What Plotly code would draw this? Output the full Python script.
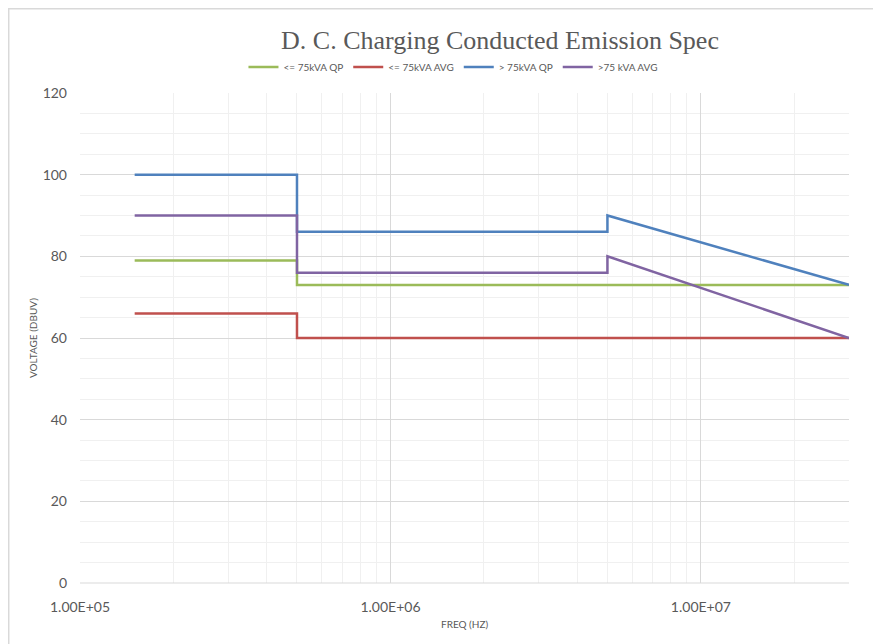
import plotly.graph_objects as go

# Data
series_names = ["<= 75kVA QP", "<= 75kVA AVG", "> 75kVA QP", ">75 kVA AVG"]
freq_low = [1.5e5, 5e5, 5e5, 3e7]
qp_low = [79, 79, 73, 73]
avg_low = [66, 66, 60, 60]
freq_high = [1.5e5, 5e5, 5e5, 5e6, 5e6, 3e7]
qp_high = [100, 100, 86, 86, 90, 73]
avg_high = [90, 90, 76, 76, 80, 60]
colors = ["#9bbb59", "#c0504d", "#4f81bd", "#8064a2"]
x_tickvals = [1e5, 1e6, 1e7]
x_ticktext = ["1.00E+05", "1.00E+06", "1.00E+07"]

fig = go.Figure()
for name, xs, ys, c in zip(series_names,
                           [freq_low, freq_low, freq_high, freq_high],
                           [qp_low, avg_low, qp_high, avg_high], colors):
    fig.add_trace(go.Scatter(x=xs, y=ys, mode="lines", name=name,
                             line=dict(color=c, width=2.5)))

minor_x = [m * 10 ** e for e in (5, 6, 7) for m in range(2, 10) if m * 10 ** e <= 3e7]

fig.update_layout(
    width=873, height=636,
    margin=dict(l=72, r=32, t=85, b=61),
    paper_bgcolor="white", plot_bgcolor="white",
    title=dict(text="D. C. Charging Conducted Emission Spec",
               font=dict(family="Liberation Serif", size=26, color="#595959"),
               x=0.5636, xanchor="center", y=0.9497, yanchor="middle"),
    legend=dict(orientation="h", x=0.485, xanchor="center", y=1.053, yanchor="middle",
                font=dict(family="Lato", size=10, color="#595959"),
                itemwidth=30, tracegroupgap=0, bgcolor="rgba(0,0,0,0)"),
    showlegend=True,
)
fig.update_xaxes(type="log", range=[5, 7.4771],
                 tickvals=x_tickvals, ticktext=x_ticktext,
                 tickfont=dict(family="Lato", size=14, color="#595959"),
                 ticklabelstandoff=14,
                 showgrid=True, gridcolor="#d9d9d9", gridwidth=1,
                 minor=dict(tickvals=minor_x, showgrid=True, gridcolor="#f0f0f0", ticks=""),
                 showline=False, zeroline=False, ticks="")
fig.update_yaxes(range=[0, 120], dtick=20,
                 tickfont=dict(family="Lato", size=14, color="#595959"),
                 ticklabelstandoff=12,
                 showgrid=True, gridcolor="#d9d9d9", gridwidth=1,
                 minor=dict(dtick=5, showgrid=True, gridcolor="#f0f0f0", ticks=""),
                 showline=False, zeroline=False, ticks="")
fig.add_annotation(text="FREQ (HZ)", xref="paper", yref="paper", x=0.5, y=-0.0837,
                   xanchor="center", yanchor="middle", showarrow=False,
                   font=dict(family="Lato", size=10, color="#595959"))
fig.add_annotation(text="VOLTAGE (DBUV)", xref="paper", yref="paper",
                   x=(25 - 72) / 769, y=0.5, textangle=-90,
                   xanchor="center", yanchor="middle", showarrow=False,
                   font=dict(family="Lato", size=10, color="#595959"))
fig.add_shape(type="line", xref="paper", yref="paper", x0=0, x1=1, y0=0, y1=0,
              line=dict(color="#d9d9d9", width=1))
fig.add_shape(type="rect", xref="paper", yref="paper",
              x0=-0.0927, x1=1.3, y0=-0.5, y1=1.1719,
              line=dict(color="#d9d9d9", width=1.5), layer="above")

fig.write_html("out.html")
